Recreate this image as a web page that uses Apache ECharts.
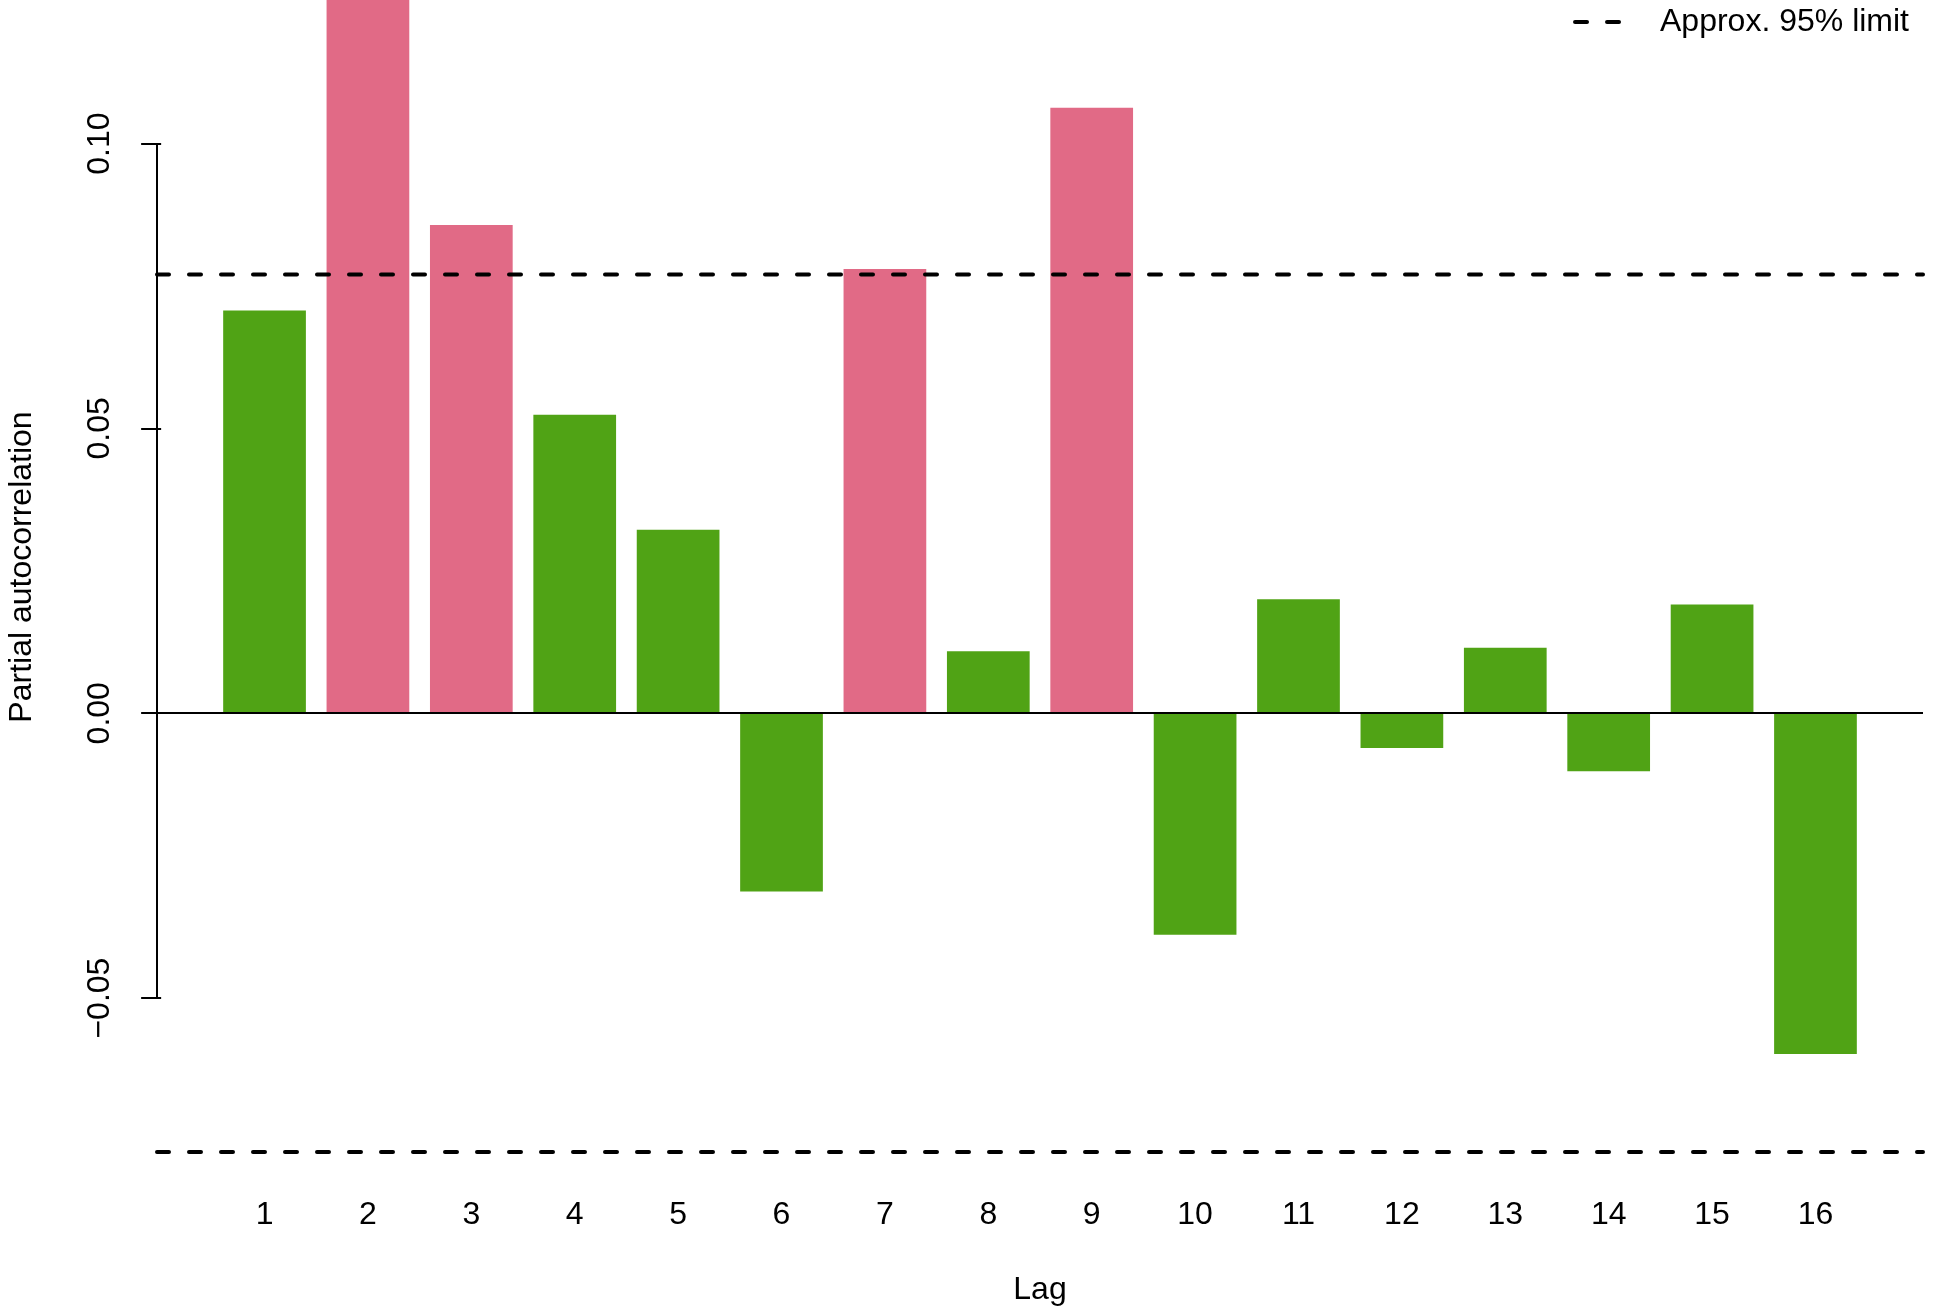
<!DOCTYPE html>
<html>
<head>
<meta charset="utf-8">
<script src="https://cdn.jsdelivr.net/npm/echarts@6/dist/echarts.min.js"></script>
<style>
  html, body { margin: 0; padding: 0; background: #ffffff; }
  #chart { width: 1942px; height: 1308px; }
</style>
</head>
<body>
<div id="chart"></div>
<script>
// Partial autocorrelation by lag
const lags = [1, 2, 3, 4, 5, 6, 7, 8, 9, 10, 11, 12, 13, 14, 15, 16];
const pacf = [0.0707, 0.1300, 0.0857, 0.0524, 0.0322, -0.0313, 0.0780, 0.0109,
              0.1063, -0.0389, 0.0200, -0.0061, 0.0115, -0.0102, 0.0191, -0.0598];
const limit95 = 0.077;
const yTicks = [-0.05, 0, 0.05, 0.10];
const legendLabel = 'Approx. 95% limit';
const xTitle = 'Lag';
const yTitle = 'Partial autocorrelation';

const X_MIN = -0.04, X_MAX = 17.04;
const Y_MIN = -0.08, Y_MAX = 0.1252;
const GRID = { left: 157, right: 19, top: 0, bottom: 139, outerBoundsMode: 'none', containLabel: false };
const FONT = 'Liberation Sans, Arial, Helvetica, sans-serif';
const OVER = '#E16A86', UNDER = '#50A315';

const chart = echarts.init(document.getElementById('chart'), null, { renderer: 'canvas' });
const plotW = 1942 - GRID.left - GRID.right;
const barW = 0.8 * plotW / (X_MAX - X_MIN);

const barData = lags.map((lag, i) => ({
  value: [lag, pacf[i]],
  itemStyle: { color: Math.abs(pacf[i]) > limit95 ? OVER : UNDER }
}));

const dashStyle = { color: '#000', width: 4, type: [12, 20], cap: 'round' };
const fmt = v => (v < 0 ? '\u2212' : '') + Math.abs(v).toFixed(2);

chart.setOption({
  animation: false,
  backgroundColor: '#ffffff',
  textStyle: { fontFamily: FONT },
  grid: GRID,
  legend: {
    data: [legendLabel],
    right: 28, top: 1,
    itemWidth: 47, itemHeight: 14,
    itemStyle: { opacity: 0 },
    lineStyle: { width: 4 },
    textStyle: { fontSize: 32, color: '#000', fontFamily: FONT, padding: [0, 0, 0, 33] },
    selectedMode: false
  },
  xAxis: {
    type: 'value', min: X_MIN, max: X_MAX,
    axisLine: { show: false }, axisTick: { show: false }, splitLine: { show: false },
    axisLabel: { customValues: lags, fontSize: 32, color: '#000', margin: 30, fontFamily: FONT },
    name: xTitle, nameLocation: 'middle', nameGap: 105,
    nameTextStyle: { fontSize: 32, color: '#000', fontFamily: FONT }
  },
  yAxis: {
    type: 'value', min: Y_MIN, max: Y_MAX,
    axisLine: { show: false }, splitLine: { show: false },
    axisTick: { show: true, customValues: yTicks, length: 20, lineStyle: { color: '#000', width: 2 } },
    axisLabel: { customValues: yTicks, rotate: 90, fontSize: 32, color: '#000', margin: 41,
                 fontFamily: FONT, formatter: fmt }
  },
  graphic: [{
    type: 'text', x: 22, y: 567, rotation: Math.PI / 2,
    style: { text: yTitle, font: '32px ' + FONT, fill: '#000', align: 'center', verticalAlign: 'middle' }
  }],
  series: [
    {
      type: 'bar', name: 'pacf', data: barData, barWidth: barW,
      markLine: {
        silent: true, symbol: 'none', label: { show: false },
        lineStyle: { color: '#000', width: 2, type: 'solid' },
        data: [{ yAxis: 0 }]
      },
      z: 2
    },
    {
      type: 'line', name: legendLabel, symbol: 'none', silent: true,
      itemStyle: { color: '#000' },
      data: [[X_MIN, limit95], [X_MAX, limit95]], lineStyle: dashStyle, z: 3
    },
    {
      type: 'line', name: legendLabel, symbol: 'none', silent: true,
      itemStyle: { color: '#000' },
      data: [[X_MIN, -limit95], [X_MAX, -limit95]], lineStyle: dashStyle, z: 3
    },
    {
      // y axis spine spanning the labelled tick range only
      type: 'line', name: 'spine', symbol: 'none', silent: true, clip: false,
      data: [[X_MIN, yTicks[0]], [X_MIN, yTicks[yTicks.length - 1]]],
      lineStyle: { color: '#000', width: 2, type: 'solid' }, z: 4
    }
  ]
});
</script>
</body>
</html>
